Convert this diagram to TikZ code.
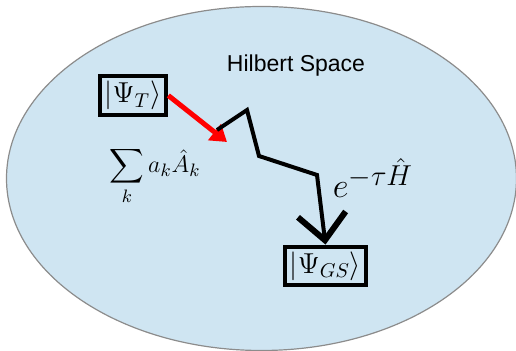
\documentclass[tikz,border=0pt]{standalone}
\usepackage{amsmath}
\usepackage{fontspec}
\newfontfamily\labelfont{Liberation Sans}
\usetikzlibrary{arrows.meta}
\definecolor{space}{HTML}{CFE5F2}
\definecolor{rim}{HTML}{8C8C8C}
\definecolor{kick}{HTML}{FF0000}

\begin{document}
\begin{tikzpicture}[x=0.5pt,y=-0.5pt,>=Latex,
  ket/.style={draw,line width=2pt,inner sep=2.5pt,font=\Large},
  walk/.style={line width=2pt,line join=miter}]
  \useasboundingbox (0,0) rectangle (516,351);
  \fill[space,draw=rim,line width=.6pt] (261.5,178.5) ellipse[x radius=255,y radius=172];
  \node[font=\labelfont\fontsize{11.5}{13}\selectfont] (title) at (296,66) {Hilbert Space};
  \node[ket] (psiT) at (133,95.5) {$|\Psi_T\rangle$};
  \node[ket] (psiGS) at (325.5,266) {$|\Psi_{GS}\rangle$};
  \node[font=\fontsize{13}{16}\selectfont,inner sep=0pt] (sum) at (155,176) {$\displaystyle\sum_k a_k\hat A_k$};
  \node[font=\fontsize{19}{22}\selectfont,inner sep=0pt] (prop) at (373,178) {$e^{-\tau\hat H}$};
  % trial state kicked towards the walk
  \coordinate (kickend) at (227,142);
  \coordinate (w0) at (217,130);
  \coordinate (w1) at (247,110);
  \coordinate (w2) at (259,156);
  \coordinate (w3) at (317,175);
  \draw[kick,line width=2.5pt,-{Triangle[length=8pt,width=10pt]}] (psiT.east) -- (kickend);
  \draw[walk,-{Straight Barb[length=13pt,width=24pt,line width=3pt]}]
    (w0) -- (w1) -- (w2) -- (w3) -- (psiGS.north);
\end{tikzpicture}
\end{document}
